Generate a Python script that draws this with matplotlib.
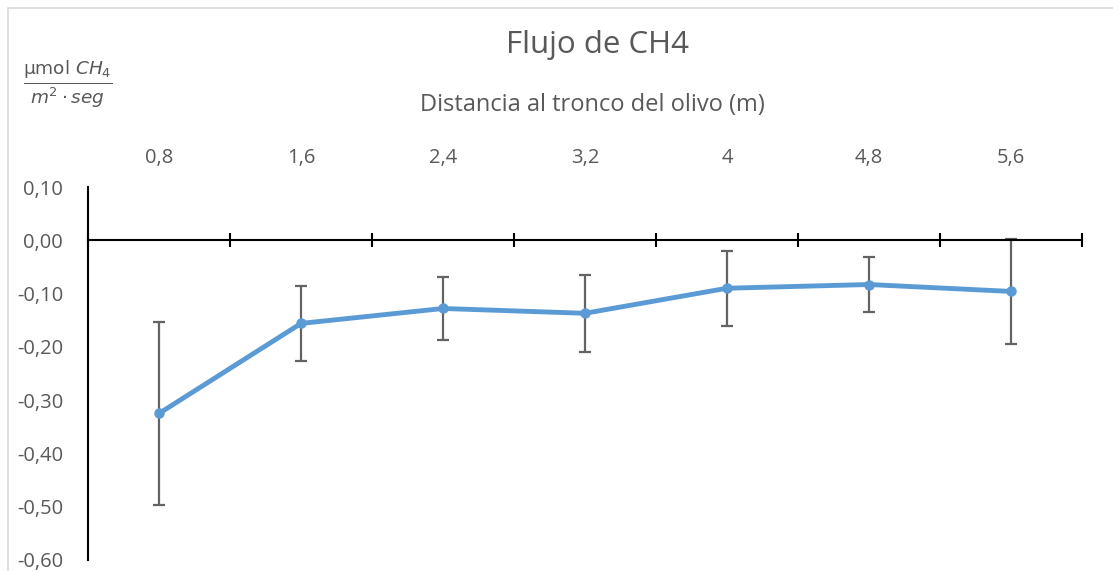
import numpy as np
import matplotlib.pyplot as plt
from matplotlib.ticker import FuncFormatter
from matplotlib.patches import Rectangle

plt.rcParams['font.family'] = ['Open Sans', 'DejaVu Sans']

distancias = ['0,8', '1,6', '2,4', '3,2', '4', '4,8', '5,6']
flujo = [-0.325, -0.156, -0.128, -0.137, -0.090, -0.083, -0.096]
error = [0.171, 0.070, 0.060, 0.072, 0.070, 0.052, 0.099]

gris = '#595959'
azul = '#5B9BD5'

fig = plt.figure(figsize=(11.13, 5.71), dpi=100)
fig.patches.append(Rectangle((8 / 1113, -0.1), 1.2, (571 - 8) / 571 + 0.1,
                             transform=fig.transFigure, fill=False,
                             edgecolor='#d9d9d9', linewidth=1.2))

ax = fig.add_axes([88 / 1113, 11 / 571, (1082 - 88) / 1113, (560 - 187) / 571])
x = np.arange(len(distancias))

ax.errorbar(x, flujo, yerr=error, fmt='none', ecolor='#636363', elinewidth=1.6,
            capsize=4.5, capthick=1.6, zorder=2)
ax.plot(x, flujo, color=azul, linewidth=3.5, marker='o', markersize=6.5, zorder=3)

ax.set_xlim(-0.5, len(distancias) - 0.5)
ax.set_ylim(-0.60, 0.10)
ax.set_yticks(np.arange(-0.6, 0.101, 0.1))
ax.yaxis.set_major_formatter(FuncFormatter(lambda v, p: ('%.2f' % v).replace('.', ',').replace('-0,00', '0,00')))
ax.tick_params(axis='y', length=0, pad=18, labelsize=14.5, labelcolor=gris)

ax.set_xticks(x)
ax.set_xticklabels(distancias)
ax.set_xticks(np.arange(-0.5, len(distancias)), minor=True)
ax.tick_params(axis='x', which='major', top=True, bottom=False, labeltop=True,
               labelbottom=False, length=0, pad=14, labelsize=14.5, labelcolor=gris)
ax.tick_params(axis='x', which='minor', bottom=True, top=False, direction='inout',
               length=10, width=1.5, color='black')

ax.spines['bottom'].set_position(('data', 0))
ax.spines['bottom'].set_linewidth(1.5)
ax.spines['left'].set_linewidth(1.5)
ax.spines['top'].set_visible(False)
ax.spines['right'].set_visible(False)

fig.text(597 / 1113, 1 - 45 / 571, 'Flujo de CH4', ha='center', va='center',
         fontsize=22.5, color=gris)
fig.text(592 / 1113, 1 - 105 / 571, 'Distancia al tronco del olivo (m)',
         ha='center', va='center', fontsize=17, color=gris)
fig.text(68 / 1113, 1 - 84 / 571, r'$\frac{\mathrm{\mu mol}\ CH_4}{m^2 \cdot seg}$',
         ha='center', va='center', fontsize=19, color=gris)

fig.savefig('out.png', dpi=100)
